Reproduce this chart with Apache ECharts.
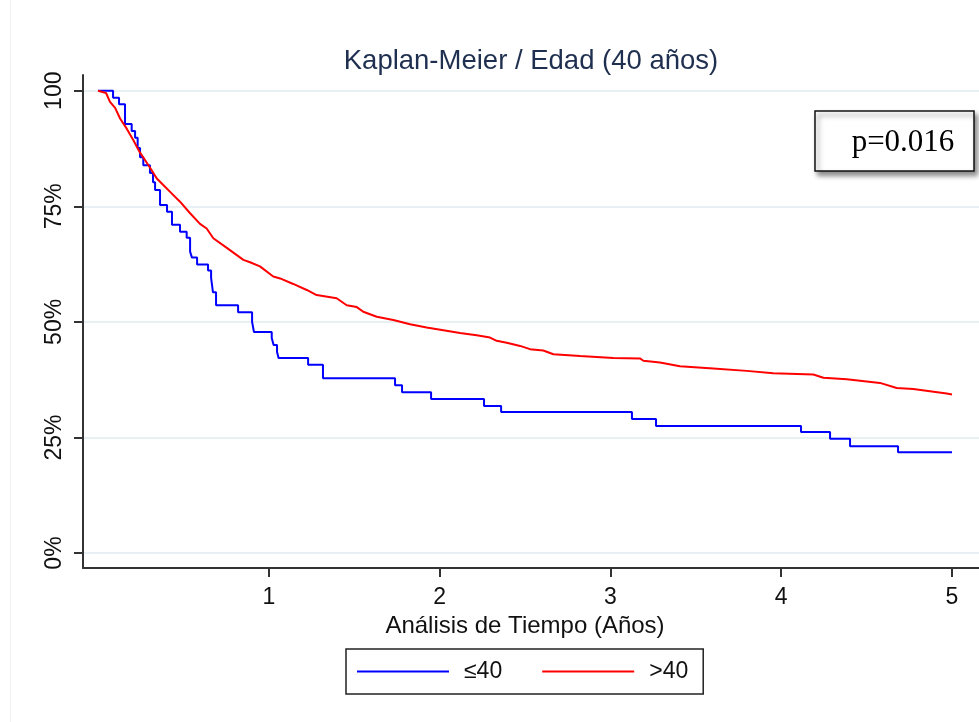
<!DOCTYPE html>
<html>
<head>
<meta charset="utf-8">
<script src="https://cdn.jsdelivr.net/npm/echarts@6/dist/echarts.min.js"></script>
<style>
html,body{margin:0;padding:0;background:#fff;}
#chart{width:979px;height:722px;}
</style>
</head>
<body>
<div id="chart"></div>
<script>
// ---- Data ----
const titleText = 'Kaplan-Meier / Edad (40 años)';
const xAxisName = 'Análisis de Tiempo (Años)';
const seriesNames = ['≤40', '>40'];
const pValueText = 'p=0.016';
const xTicks = [1, 2, 3, 4, 5];
const yTicks = [0, 25, 50, 75, 100];

// group ≤40 (step function): time (years), survival (%)
const blueTime = [0, 0.088, 0.123, 0.158, 0.197, 0.217, 0.232, 0.246, 0.265, 0.304, 0.322, 0.334, 0.363, 0.404, 0.433, 0.480, 0.519, 0.539, 0.550, 0.580, 0.644, 0.662, 0.673, 0.691, 0.820, 0.902, 0.913, 1.017, 1.028, 1.048, 1.057, 1.230, 1.317, 1.739, 1.780, 1.950, 2.260, 2.360, 3.126, 3.267, 4.116, 4.286, 4.403, 4.684, 5.0];
const blueSurv = [100, 98.5, 97.1, 92.8, 91.3, 89.8, 87.6, 85.6, 83.9, 82.2, 80.2, 78.5, 75.3, 73.8, 71.0, 69.5, 68.2, 65.2, 63.9, 62.4, 61.1, 59.5, 56.4, 53.6, 52.1, 50.0, 47.8, 46.5, 45.0, 43.5, 42.2, 40.7, 37.8, 36.3, 34.8, 33.3, 31.8, 30.5, 29.0, 27.5, 26.2, 24.7, 23.1, 21.8, 21.8];

// group >40: time (years), survival (%)
const redTime = [0, 0.047, 0.070, 0.100, 0.129, 0.168, 0.207, 0.246, 0.275, 0.314, 0.344, 0.382, 0.431, 0.480, 0.539, 0.597, 0.636, 0.675, 0.754, 0.851, 0.890, 0.948, 1.026, 1.066, 1.143, 1.222, 1.280, 1.397, 1.456, 1.515, 1.553, 1.632, 1.729, 1.827, 1.924, 2.022, 2.119, 2.217, 2.295, 2.334, 2.393, 2.471, 2.529, 2.607, 2.666, 2.822, 3.017, 3.173, 3.193, 3.290, 3.407, 3.602, 3.798, 3.954, 4.188, 4.247, 4.384, 4.578, 4.676, 4.773, 4.969, 5.0];
const redSurv = [100, 99.5, 97.6, 96.3, 94.0, 91.8, 89.3, 86.6, 85.0, 82.8, 81.0, 79.6, 77.8, 76.0, 73.5, 71.2, 70.2, 68.1, 66.0, 63.4, 62.9, 62.0, 59.8, 59.4, 58.2, 56.9, 55.8, 55.1, 53.6, 53.2, 52.2, 51.1, 50.4, 49.5, 48.8, 48.2, 47.6, 47.1, 46.6, 45.9, 45.5, 44.8, 44.1, 43.8, 43.0, 42.6, 42.2, 42.1, 41.6, 41.2, 40.4, 39.9, 39.4, 38.9, 38.6, 37.9, 37.6, 36.8, 35.7, 35.5, 34.5, 34.3];

const blueData = blueTime.map((t, i) => [t, blueSurv[i]]);
const redData = redTime.map((t, i) => [t, redSurv[i]]);

const FONT = 'Liberation Sans';
const chart = echarts.init(document.getElementById('chart'), null, {renderer: 'canvas'});

chart.setOption({
  animation: false,
  backgroundColor: '#ffffff',
  textStyle: {fontFamily: FONT},
  title: {
    text: titleText,
    left: 526, textAlign: 'center', top: 42,
    textStyle: {fontFamily: FONT, fontSize: 27.5, fontWeight: 'normal', color: '#1f2f4f'}
  },
  grid: {left: 83, right: 0, top: 75, bottom: 154, containLabel: false},
  xAxis: {
    type: 'value', min: -0.088, max: 5.158,
    name: xAxisName, nameLocation: 'middle', nameGap: 42,
    nameTextStyle: {fontFamily: FONT, fontSize: 24, color: '#111', padding: [0, 12, 0, 0]},
    axisLine: {show: true, onZero: false, lineStyle: {color: '#333', width: 2}},
    axisTick: {show: true, length: 9, lineStyle: {color: '#333', width: 2}, customValues: xTicks},
    axisLabel: {fontFamily: FONT, fontSize: 23, color: '#111', margin: 18, customValues: xTicks},
    splitLine: {show: false}
  },
  yAxis: {
    type: 'value', min: -3.24, max: 103.4,
    axisLine: {show: true, onZero: false, lineStyle: {color: '#333', width: 2}},
    axisTick: {show: true, length: 9, lineStyle: {color: '#333', width: 2}, customValues: yTicks},
    axisLabel: {
      fontFamily: FONT, fontSize: 23, color: '#111', margin: 17, rotate: 90,
      customValues: yTicks,
      formatter: v => (v === 100 ? '100' : v + '%')
    },
    splitLine: {show: true, lineStyle: {color: '#e9f0f3', width: 2}}
  },
  legend: {
    data: seriesNames,
    left: 346, top: 649,
    orient: 'horizontal',
    icon: 'rect',
    itemWidth: 92, itemHeight: 2, itemGap: 40,
    padding: [11, 15, 11, 11],
    borderColor: '#222', borderWidth: 1.5,
    textStyle: {fontFamily: FONT, fontSize: 23, color: '#111', padding: [0, 0, 0, 10]}
  },
  series: [
    {
      name: seriesNames[0], type: 'line', step: 'end', data: blueData,
      showSymbol: false, symbol: 'none',
      lineStyle: {color: '#0000ff', width: 2}, itemStyle: {color: '#0000ff'}
    },
    {
      name: seriesNames[1], type: 'line', data: redData,
      showSymbol: false, symbol: 'none',
      lineStyle: {color: '#ff0000', width: 2}, itemStyle: {color: '#ff0000'}
    }
  ],
  graphic: [
    {type: 'line', shape: {x1: 10.5, y1: 0, x2: 10.5, y2: 722}, style: {stroke: '#f0f0f0', lineWidth: 1}, silent: true},
    {
      type: 'rect', shape: {x: 815, y: 111, width: 159, height: 60},
      style: {fill: '#fff', stroke: '#111', lineWidth: 1.5, shadowBlur: 5, shadowOffsetX: 3, shadowOffsetY: 4, shadowColor: 'rgba(0,0,0,0.45)'},
      z: 10
    },
    {
      type: 'text', x: 903, y: 143,
      style: {text: pValueText, fontFamily: 'Liberation Serif', fontSize: 31, fill: '#000', align: 'center', verticalAlign: 'middle'},
      z: 11
    }
  ]
});
</script>
</body>
</html>
